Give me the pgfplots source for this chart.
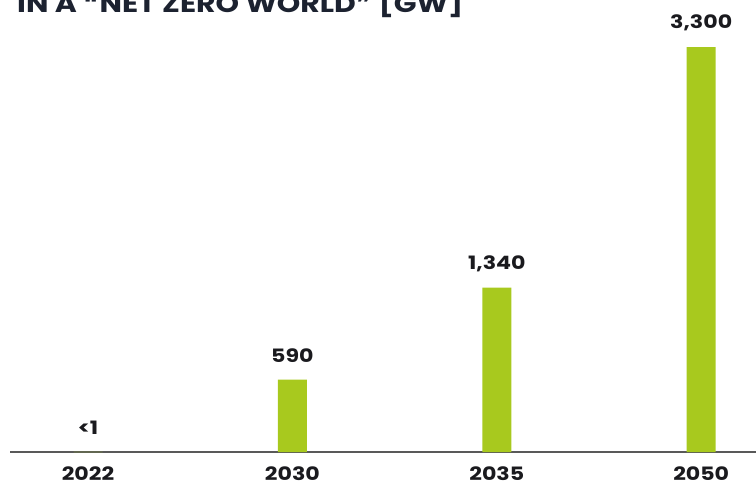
\documentclass[border=0pt]{standalone}
\usepackage{fontspec}
\setmainfont{Poppins}[FakeStretch=1.2]
\newfontfamily\qf{DejaVu Sans}
\usepackage{pgfplots}
\pgfplotsset{compat=1.18}
\definecolor{barg}{RGB}{168,201,30}
\definecolor{txt}{RGB}{26,26,30}
\definecolor{ttl}{RGB}{28,34,48}
\begin{document}
\begin{tikzpicture}
\useasboundingbox (0,0) rectangle (756bp,483bp);
\node[anchor=base west, inner sep=0pt, font=\bfseries\fontsize{25}{29}\selectfont, text=ttl] at (17bp,470.5bp) {IN A {\qf\bfseries “}NET ZERO WORLD{\qf\bfseries ”} [GW]};
\begin{axis}[
  at={(88bp,31bp)}, anchor=origin,
  x=204.4bp, y=0.1227bp,
  xmin=-0.38, xmax=3.27, ymin=0, ymax=3684,
  axis x line=bottom, axis y line=none,
  axis line style={draw=black!65, line width=2.4bp, -},
  xtick={0,1,2,3}, xticklabels={2022,2030,2035,2050},
  major tick length=0pt,
  xticklabel style={anchor=center, yshift=-21.5bp, font=\bfseries\fontsize{18.5}{22}\selectfont, text=txt},
  ytick=\empty,
  clip=false,
  point meta=explicit symbolic,
  nodes near coords,
  every node near coord/.append style={anchor=center, yshift=24bp, font=\bfseries\fontsize{18.5}{22}\selectfont, text=txt},
]
\addplot[ybar, bar width=29bp, fill=barg, draw=none] coordinates {
  (0,0.5) [<1]
  (1,590) [590]
  (2,1340) [1,340]
  (3,3300) [3,300]
};
\end{axis}
\end{tikzpicture}
\end{document}
